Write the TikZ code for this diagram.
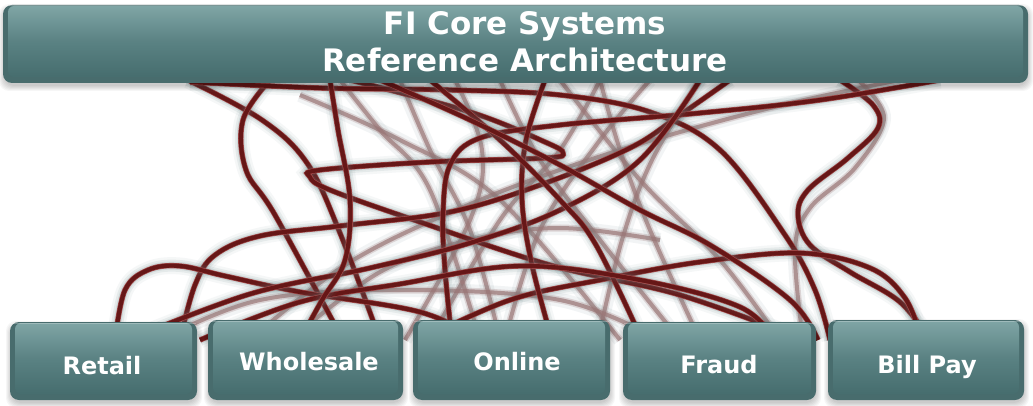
\documentclass[tikz,border=0pt]{standalone}
\usepackage{fontspec}
\setmainfont{DejaVu Sans}
\definecolor{wire}{HTML}{661717}
\definecolor{wirerim}{HTML}{A34A4A}
\definecolor{glow}{HTML}{5E7E80}
\definecolor{ghostwire}{HTML}{9A7676}
\definecolor{tealtop}{HTML}{7FA5A5}
\definecolor{tealmid}{HTML}{5A8283}
\definecolor{tealbot}{HTML}{466D6E}
\definecolor{tealedge}{HTML}{486C6D}

% one foreground wire: soft glow, reddish rim, dark core
\newcommand\wirestrand[1]{%
  \draw[glow, line width=17pt, opacity=.06] plot[smooth,tension=.6] coordinates {#1};
  \draw[glow, line width=12pt, opacity=.10] plot[smooth,tension=.6] coordinates {#1};
  \draw[glow, line width=8pt, opacity=.15] plot[smooth,tension=.6] coordinates {#1};
  \draw[wirerim, line width=5.4pt] plot[smooth,tension=.6] coordinates {#1};
  \draw[wire, line width=4.1pt] plot[smooth,tension=.6] coordinates {#1};}
% one blurred wire further back
\newcommand\ghoststrand[1]{%
  \draw[glow, line width=14pt, opacity=.08] plot[smooth,tension=.6] coordinates {#1};
  \draw[ghostwire, line width=7pt, opacity=.25] plot[smooth,tension=.6] coordinates {#1};
  \draw[ghostwire, line width=4pt, opacity=.7] plot[smooth,tension=.6] coordinates {#1};}
% bevelled teal panel with a soft drop shadow
\newcommand\tealpanel[5]{% name, x1, y1, x2, y2
  \foreach \s in {1,...,6}
    \fill[black, opacity=.035, rounded corners=10pt]
      ({#2-\s+2},{#3-\s+5}) rectangle ({#4+\s-1},{#5+\s+2});
  \fill[tealedge, rounded corners=9pt] (#2,#3) rectangle (#4,#5);
  \shade[top color=tealtop, bottom color=tealbot, middle color=tealmid, rounded corners=6pt]
    ({#2+5},{#3+1}) rectangle ({#4-5},{#5-6});
  \draw[white, opacity=.25, line width=1pt, rounded corners=9pt] ({#2+1},{#3+1}) -- ({#4-1},{#3+1});
  \coordinate (#1) at ({(#2+#4)/2},{(#3+#5)/2});}

\begin{document}
\begin{tikzpicture}[x=1pt, y=-1pt,
  label/.style={text=white, font=\bfseries\fontsize{24}{28}\selectfont, anchor=base, inner sep=0pt},
  heading/.style={text=white, font=\bfseries\fontsize{31}{37}\selectfont, anchor=base, inner sep=0pt}]
\useasboundingbox (0,0) rectangle (1033,406);
\fill[white] (0,0) rectangle (1033,406);

% ---- wires in the back ----
\ghoststrand{(400,80) (430,150) (470,230) (500,340)}
\ghoststrand{(600,80) (560,150) (500,220) (430,340)}
\ghoststrand{(500,80) (540,160) (600,240) (680,340)}
\ghoststrand{(650,80) (600,140) (540,230) (505,340)}
\ghoststrand{(300,95) (400,140) (500,200) (620,340)}
\ghoststrand{(455,80) (482,150) (470,220) (405,340)}
\ghoststrand{(700,80) (652,160) (622,240) (598,340)}
\ghoststrand{(560,80) (640,180) (720,260) (780,340)}
\ghoststrand{(250,340) (350,262) (480,200) (620,150) (770,108) (900,80)}
\ghoststrand{(858,80) (884,118) (855,168) (810,208) (795,250) (803,340)}
\ghoststrand{(290,340) (380,272) (470,240) (560,228) (660,240)}
\ghoststrand{(340,80) (380,130) (430,190) (480,340)}
\ghoststrand{(600,80) (620,150) (650,230) (700,340)}
\ghoststrand{(160,340) (260,300) (400,290) (560,300) (660,340)}

% ---- wires in front ----
\wirestrand{(188,80) (262,120) (307,163) (340,233) (380,340)}
\wirestrand{(270,80) (243,120) (246,170) (275,215) (343,340)}
\wirestrand{(350,80) (470,112) (545,142) (563,153) (545,158) (430,162) (320,170) (310,177) (330,190) (420,222) (550,265) (680,295) (805,340)}
\wirestrand{(190,82) (320,88) (450,90) (560,95) (650,112) (720,150) (785,235) (815,290) (830,340)}
\wirestrand{(730,80) (680,115) (630,148) (540,185) (450,212) (340,226) (260,236) (215,255) (195,285) (180,340)}
\wirestrand{(115,340) (125,290) (148,270) (180,266) (225,276) (300,292) (420,312) (480,340)}
\wirestrand{(840,80) (873,105) (878,128) (848,158) (808,190) (798,215) (810,245) (850,272) (900,302) (930,340)}
\wirestrand{(940,80) (820,100) (700,113) (560,125) (480,138) (450,165) (443,215) (445,270) (452,340)}
\wirestrand{(420,340) (510,300) (600,280) (700,262) (800,253) (870,268) (905,298) (922,340)}
\wirestrand{(128,340) (250,294) (370,268) (470,243) (560,210) (640,160) (700,80)}
\wirestrand{(545,80) (526,140) (522,200) (532,265) (552,340)}
\wirestrand{(430,80) (500,140) (560,200) (596,245) (642,340)}
\wirestrand{(380,80) (470,120) (560,165) (640,210) (710,245) (790,300) (818,340)}
\wirestrand{(200,340) (300,302) (400,284) (520,266) (640,280) (740,307) (775,340)}
\wirestrand{(330,80) (338,130) (350,200) (345,260) (322,300) (300,340)}

% ---- core systems bar ----
\tealpanel{core}{3}{5}{1028}{83}
\node[heading] (title1) at (525,35) {FI Core Systems};
\node[heading] (title2) at (525,72) {Reference Architecture};

% ---- line-of-business panels ----
\tealpanel{retail}{10}{322}{197}{400}
\tealpanel{wholesale}{208}{320}{403}{400}
\tealpanel{online}{413}{320}{610}{400}
\tealpanel{fraud}{623}{322}{816}{400}
\tealpanel{billpay}{828}{320}{1024}{400}
\node[label] (lretail) at (102,374) {Retail};
\node[label] (lwholesale) at (309,370) {Wholesale};
\node[label] (lonline) at (517,370) {Online};
\node[label] (lfraud) at (719,373) {Fraud};
\node[label] (lbillpay) at (927,373) {Bill Pay};
\end{tikzpicture}
\end{document}
